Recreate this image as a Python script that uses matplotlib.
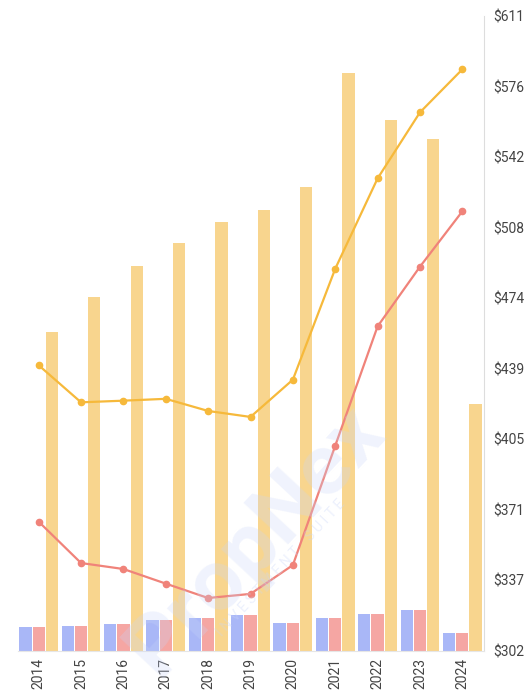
import matplotlib.pyplot as plt
import numpy as np

plt.rcParams['font.family'] = ['Roboto', 'DejaVu Sans']

# data
years = ['2014', '2015', '2016', '2017', '2018', '2019', '2020', '2021', '2022', '2023', '2024']
blue_bars = [314.0, 314.2, 315.4, 317.1, 318.3, 319.6, 315.9, 318.0, 320.3, 322.1, 311.0]
pink_bars = [314.0, 314.2, 315.4, 317.1, 318.3, 319.6, 315.9, 318.0, 320.3, 322.1, 311.0]
orange_bars = [457.2, 474.0, 489.4, 500.4, 510.6, 516.4, 527.6, 583.2, 560.3, 550.9, 422.2]
yellow_line = [441.0, 423.0, 423.8, 424.7, 418.8, 415.9, 434.0, 487.9, 531.8, 563.9, 584.8]
red_line = [365.0, 344.9, 342.0, 334.9, 327.9, 329.9, 343.9, 401.9, 459.9, 488.9, 515.8]

fig = plt.figure(figsize=(5.25, 6.95), dpi=100)
ax = fig.add_axes([17.5 / 525, 44.3 / 695, 466 / 525, 634.7 / 695])

x = np.arange(len(years))
w = 0.29
off = 0.314
ax.bar(x - off, blue_bars, w, color='#a9b7f7', zorder=2)
ax.bar(x, pink_bars, w, color='#f5a6a3', zorder=2)
ax.bar(x + off, orange_bars, w, color='#f8d58e', zorder=2)

ax.plot(x, yellow_line, color='#f6b93b', lw=1.6, marker='o', ms=4.5, zorder=4)
ax.plot(x, red_line, color='#f0837a', lw=1.6, marker='o', ms=4.5, zorder=4)

ymin, ymax = 302.3, 610.73
ax.set_ylim(ymin, ymax)
ax.set_xlim(-0.5, len(years) - 0.5)
ticks = np.linspace(ymin, ymax, 10)
ax.yaxis.tick_right()
ax.set_yticks(ticks)
ax.set_yticklabels(['$%.0f' % t for t in ticks])
ax.set_xticks(x)
ax.set_xticklabels(years, rotation=90)
ax.tick_params(axis='y', length=0, pad=7, labelsize=10, labelcolor='#444444')
ax.tick_params(axis='x', length=0, pad=5, labelsize=10, labelcolor='#444444')

for s in ['top', 'left']:
    ax.spines[s].set_visible(False)
ax.spines['right'].set_color('#dddddd')
ax.spines['bottom'].set_color('#e6e6e6')

# faint watermark
fig.text(0.486, 0.223, 'PropNex', fontsize=62, fontweight='bold', color='#c9d5f8',
         alpha=0.28, rotation=47, ha='center', va='center', zorder=10)
fig.text(0.535, 0.183, 'I N V E S T M E N T    S U I T E', fontsize=10, color='#c9d5f8',
         alpha=0.35, rotation=47, ha='center', va='center', zorder=10)

fig.savefig('out.png', dpi=100)
